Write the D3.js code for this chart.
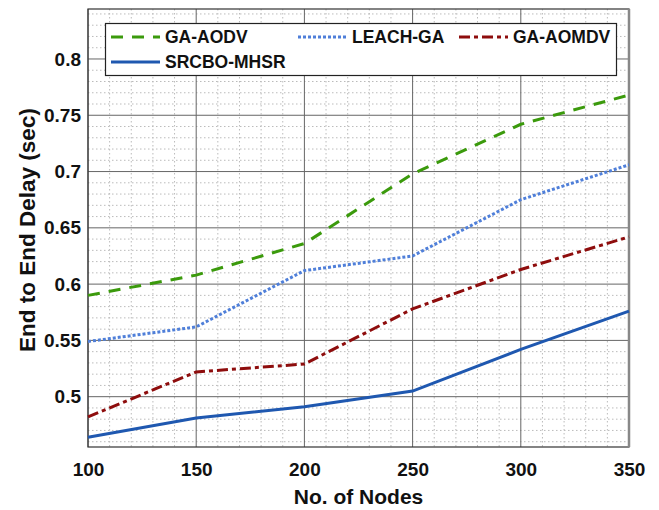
<!DOCTYPE html>
<html><head><meta charset="utf-8">
<script src="https://cdn.jsdelivr.net/npm/d3@7"></script>
<style>body{margin:0;background:#fff}svg{display:block}text{font-family:"Liberation Sans",Arial,sans-serif;font-weight:bold;fill:#111}</style>
</head><body><svg id="c" width="659" height="510"></svg>
<script>
const nodes = [100, 150, 200, 250, 300, 350];
const gaAodv = [0.590, 0.608, 0.636, 0.698, 0.742, 0.768];
const leachGa = [0.549, 0.562, 0.612, 0.625, 0.675, 0.706];
const gaAomdv = [0.482, 0.522, 0.529, 0.578, 0.613, 0.642];
const srcbo = [0.464, 0.481, 0.491, 0.505, 0.542, 0.576];
const seriesNames = ["GA-AODV", "LEACH-GA", "GA-AOMDV", "SRCBO-MHSR"];
const xTicks = [100, 150, 200, 250, 300, 350];
const yTicks = [0.5, 0.55, 0.6, 0.65, 0.7, 0.75, 0.8];

const svg = d3.select("#c");
const L = 88, R = 629, T = 9, B = 447;
const x = d3.scaleLinear().domain([100, 350]).range([L, R]);
const y = d3.scaleLinear().domain([0.4553, 0.8444]).range([B, T]);

// minor grid
const g = svg.append("g");
d3.range(100, 351, 10).filter(v => v % 50 !== 0).forEach(v => {
  g.append("line").attr("x1", x(v)).attr("x2", x(v)).attr("y1", T).attr("y2", B)
   .attr("stroke", "#bbb").attr("stroke-width", 1).attr("stroke-dasharray", "1.5,2.5");
});
d3.range(46, 85, 1).map(v => v / 100).filter(v => Math.round(v * 100) % 5 !== 0).forEach(v => {
  g.append("line").attr("x1", L).attr("x2", R).attr("y1", y(v)).attr("y2", y(v))
   .attr("stroke", "#bbb").attr("stroke-width", 1).attr("stroke-dasharray", "1.5,2.5");
});
// major grid
xTicks.forEach(v => g.append("line").attr("x1", x(v)).attr("x2", x(v)).attr("y1", T).attr("y2", B)
  .attr("stroke", "#666").attr("stroke-width", 1));
yTicks.forEach(v => g.append("line").attr("x1", L).attr("x2", R).attr("y1", y(v)).attr("y2", y(v))
  .attr("stroke", "#666").attr("stroke-width", 1));

// axes
const xa = svg.append("g").attr("transform", `translate(0,${B})`)
  .call(d3.axisBottom(x).tickValues(xTicks).tickSize(0).tickPadding(16).tickFormat(d3.format("d")));
xa.select(".domain").remove();
xa.selectAll("text").style("font-size", "19px").attr("dy", "0.71em");
const ya = svg.append("g").attr("transform", `translate(${L},0)`)
  .call(d3.axisLeft(y).tickValues(yTicks).tickSize(0).tickPadding(7).tickFormat(d => String(+d.toFixed(2))));
ya.select(".domain").remove();
ya.selectAll("text").style("font-size", "19px");

svg.append("rect").attr("x", L).attr("y", T).attr("width", R - L).attr("height", B - T)
  .attr("fill", "none").attr("stroke", "#333").attr("stroke-width", 1.2);
svg.append("line").attr("x1", R).attr("x2", R).attr("y1", T).attr("y2", B).attr("stroke", "#888").attr("stroke-width", 2.5);

const styles = [
  {data: gaAodv, color: "#3b9a0c", dash: "12,9"},
  {data: leachGa, color: "#4f7fd9", dash: "3,2"},
  {data: gaAomdv, color: "#8e0d0d", dash: "11,4,4,4"},
  {data: srcbo, color: "#1f58b0", dash: null}
];
const line = d3.line().x((d, i) => x(nodes[i])).y(d => y(d));
styles.forEach(s => {
  svg.append("path").datum(s.data).attr("d", line).attr("fill", "none")
    .attr("stroke", s.color).attr("stroke-width", 3).attr("stroke-dasharray", s.dash);
});

// legend
const lg = svg.append("g");
lg.append("rect").attr("x", 105.5).attr("y", 23.5).attr("width", 511).attr("height", 52)
  .attr("fill", "#fff").attr("stroke", "#222").attr("stroke-width", 1.2);
const items = [
  {x: 111, y: 37, i: 0},
  {x: 298, y: 37, i: 1},
  {x: 459, y: 37, i: 2},
  {x: 111, y: 62, i: 3}
];
items.forEach(it => {
  const s = styles[it.i];
  lg.append("line").attr("x1", it.x).attr("x2", it.x + 49).attr("y1", it.y).attr("y2", it.y)
    .attr("stroke", s.color).attr("stroke-width", 3).attr("stroke-dasharray", s.dash);
  lg.append("text").attr("x", it.x + 54).attr("y", it.y).attr("dy", "0.36em")
    .style("font-size", "17.5px").text(seriesNames[it.i]);
});

svg.append("text").attr("x", (L + R) / 2).attr("y", 504).attr("text-anchor", "middle")
  .style("font-size", "21px").text("No. of Nodes");
svg.append("text").attr("transform", `translate(35,230) rotate(-90)`)
  .attr("text-anchor", "middle").style("font-size", "22.5px").text("End to End Delay (sec)");
</script></body></html>
